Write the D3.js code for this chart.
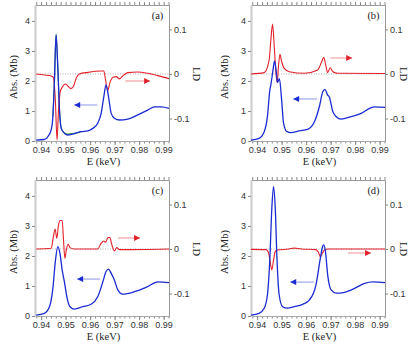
<!DOCTYPE html>
<html>
<head>
<meta charset="utf-8">
<script src="https://cdn.jsdelivr.net/npm/d3@7"></script>
<style>
  body { margin: 0; background: #fff; }
  .tick text { font-family: "Liberation Sans", Arial, sans-serif; font-size: 9px; fill: #333; }
  .lbl { font-family: "Liberation Serif", "Times New Roman", serif; font-size: 10.5px; fill: #222; }
</style>
</head>
<body>
<div class="chart"></div>
<script>
// Energy (keV) tick labels
var eTicks = [0.94, 0.95, 0.96, 0.97, 0.98, 0.99];
var absTicks = [0, 1, 2, 3, 4];
var ldTicks = [-0.1, 0, 0.1];

// panel (a)
var absE_a = [0.938, 0.9413, 0.9427, 0.9441, 0.9448, 0.9454, 0.9461, 0.9468, 0.9475, 0.9482, 0.9495, 0.9509, 0.9529, 0.9563, 0.9591, 0.9611, 0.9631, 0.9645, 0.9656, 0.9665, 0.9675, 0.9686, 0.9699, 0.972, 0.9754, 0.9795, 0.9835, 0.9863, 0.989, 0.9922];
var abs_a  = [0.03, 0.05, 0.14, 0.37, 0.81, 1.92, 3.53, 2.48, 1.03, 0.42, 0.26, 0.2, 0.23, 0.31, 0.34, 0.42, 0.59, 0.92, 1.48, 1.87, 1.48, 0.92, 0.76, 0.7, 0.73, 0.87, 1.03, 1.14, 1.14, 1.09];
var greenE_a = [0.9448, 0.9454, 0.9461, 0.9468, 0.9475, 0.9482, 0.9495, 0.9509, 0.9529, 0.9563];
var green_a  = [0.81, 1.92, 3.56, 2.48, 1.03, 0.42, 0.27, 0.23, 0.25, 0.31];
var ldE_a = [0.938, 0.9413, 0.9441, 0.945, 0.9458, 0.9465, 0.9471, 0.9478, 0.9486, 0.9498, 0.9509, 0.9522, 0.9533, 0.9543, 0.9556, 0.9591, 0.9645, 0.9656, 0.9663, 0.9672, 0.968, 0.9693, 0.9706, 0.972, 0.9733, 0.9754, 0.9795, 0.9835, 0.9876, 0.9922];
var ld_a  = [0, -0.0022, -0.0045, -0.0075, -0.058, -0.148, -0.081, -0.04, -0.03, -0.0225, -0.027, -0.033, -0.027, -0.0097, 0, 0.0037, 0.0067, 0.0067, -0.0135, -0.037, -0.021, -0.0075, -0.006, -0.011, -0.0045, 0.003, 0.0045, 0.0015, -0.0037, -0.0105];

// panel (b)
var absE_b = [0.9375, 0.9408, 0.9429, 0.9442, 0.9452, 0.9456, 0.9464, 0.9471, 0.9478, 0.9483, 0.9491, 0.95, 0.9508, 0.9522, 0.9538, 0.9572, 0.9606, 0.9634, 0.9654, 0.9668, 0.9677, 0.9688, 0.9695, 0.9709, 0.9723, 0.9743, 0.9784, 0.9825, 0.9859, 0.988, 0.9922];
var abs_b  = [0.03, 0.09, 0.31, 0.81, 1.7, 1.87, 2.31, 2.67, 2.31, 1.95, 2.08, 1.37, 0.59, 0.31, 0.28, 0.34, 0.39, 0.64, 1.14, 1.64, 1.72, 1.53, 1.46, 0.98, 0.81, 0.73, 0.81, 0.92, 1.09, 1.14, 1.12];
var ldE_b = [0.9375, 0.9429, 0.9449, 0.9456, 0.9463, 0.947, 0.9477, 0.9482, 0.9487, 0.9493, 0.95, 0.951, 0.9531, 0.9593, 0.9647, 0.9664, 0.9672, 0.968, 0.9688, 0.9698, 0.9709, 0.9729, 0.9922];
var ld_b  = [0, 0.003, 0.031, 0.076, 0.112, 0.061, 0.0015, -0.0195, 0.016, 0.044, 0.028, 0.013, 0.005, 0.0015, 0.009, 0.028, 0.0375, 0.02, 0.003, 0.014, 0.005, 0.0015, 0.001];

// panel (c)
var absE_c = [0.938, 0.9413, 0.9434, 0.9448, 0.9458, 0.9468, 0.9478, 0.9486, 0.9495, 0.9505, 0.9518, 0.9536, 0.957, 0.9604, 0.9631, 0.9652, 0.9665, 0.9675, 0.9686, 0.9699, 0.9713, 0.9733, 0.9781, 0.9835, 0.9876, 0.9922];
var abs_c  = [0.03, 0.09, 0.31, 0.92, 1.81, 2.31, 2.03, 1.53, 1.14, 0.64, 0.31, 0.23, 0.31, 0.39, 0.64, 1.14, 1.48, 1.56, 1.42, 1.2, 0.87, 0.73, 0.81, 0.98, 1.14, 1.11];
var ldE_c = [0.938, 0.9441, 0.9449, 0.9457, 0.9464, 0.9471, 0.9478, 0.9486, 0.9491, 0.9497, 0.9503, 0.951, 0.9518, 0.9536, 0.9631, 0.9645, 0.9656, 0.9663, 0.9672, 0.968, 0.9689, 0.9699, 0.9709, 0.972, 0.9922];
var ld_c  = [0, 0.0015, 0.024, 0.045, 0.024, 0.054, 0.064, 0.064, 0.024, -0.021, -0.002, 0.0105, 0.003, 0, 0, 0.013, 0.018, 0.015, 0.025, 0.026, 0.009, -0.0045, 0.003, -0.0015, 0];

// panel (d)
var absE_d = [0.9375, 0.9408, 0.9429, 0.9442, 0.9452, 0.946, 0.9467, 0.9474, 0.9481, 0.949, 0.9504, 0.9524, 0.9552, 0.9586, 0.9613, 0.964, 0.9658, 0.9668, 0.9672, 0.9679, 0.9688, 0.9702, 0.9723, 0.9757, 0.9798, 0.9839, 0.9873, 0.9922];
var abs_d  = [0.03, 0.09, 0.26, 0.7, 1.92, 3.59, 4.31, 3.59, 1.92, 0.7, 0.31, 0.26, 0.31, 0.39, 0.53, 1.03, 1.92, 2.33, 2.37, 2.14, 1.37, 0.87, 0.76, 0.79, 0.92, 1.09, 1.14, 1.11];
var ldE_d = [0.9375, 0.9436, 0.9446, 0.9453, 0.946, 0.9467, 0.9474, 0.9482, 0.953, 0.955, 0.958, 0.964, 0.965, 0.9658, 0.9666, 0.9675, 0.969, 0.9922];
var ld_d  = [-0.001, -0.0015, -0.0075, -0.028, -0.047, -0.025, -0.006, -0.0022, 0, 0.002, 0, -0.0015, -0.0075, -0.017, -0.0097, -0.0022, 0, 0];

// arrows: [E start, E end, value]
var ldArrow = { a: [0.9743, 0.9845, -0.0157], b: [0.9698, 0.9788, 0.036], c: [0.9714, 0.9804, 0.0247], d: [0.9771, 0.9865, -0.009] };
var absArrow = { a: [0.9629, 0.9535, 1.2], b: [0.9645, 0.9547, 1.4], c: [0.9641, 0.9547, 1.23], d: [0.9633, 0.9535, 1.13] };

var panels = [
  { id: "a", left: 35, top: 5, absE: absE_a, abs: abs_a, ldE: ldE_a, ld: ld_a, ylx: -21.5, ldx: 27.5 },
  { id: "b", left: 251, top: 5, absE: absE_b, abs: abs_b, ldE: ldE_b, ld: ld_b, ylx: -27, ldx: 19 },
  { id: "c", left: 35, top: 180, absE: absE_c, abs: abs_c, ldE: ldE_c, ld: ld_c, ylx: -21.5, ldx: 27.5 },
  { id: "d", left: 251, top: 180, absE: absE_d, abs: abs_d, ldE: ldE_d, ld: ld_d, ylx: -27, ldx: 19 }
];

var svgWidth = 415, svgHeight = 350;
var width = 134, height = 136;
var blue = "#1a2bd2", red = "#e3202a";

var svg = d3.select(".chart").append("svg")
  .attr("width", svgWidth)
  .attr("height", svgHeight);

var defs = svg.append("defs");
[["headRed", red], ["headBlue", blue]].forEach(function(m) {
  defs.append("marker")
    .attr("id", m[0])
    .attr("viewBox", "0 0 10 10")
    .attr("refX", 10).attr("refY", 5)
    .attr("markerWidth", 7).attr("markerHeight", 6)
    .attr("markerUnits", "userSpaceOnUse")
    .attr("orient", "auto")
    .append("path").attr("d", "M0,0L10,5L0,10Z").attr("fill", m[1]);
});

var xScale = d3.scaleLinear().domain([0.9375, 0.9922]).range([0, width]);
var yAbs = d3.scaleLinear().domain([0, 4.53]).range([height, 0]);
var yLd = d3.scaleLinear().domain([-0.1506, 0.155]).range([height, 0]);

var minorE = d3.range(0, 28).map(function(i) { return +(0.938 + i * 0.002).toFixed(3); });

function styleAxis(g, col) {
  g.selectAll(".domain").attr("stroke", col);
  g.selectAll(".tick line").attr("stroke", "#888");
}

panels.forEach(function(p) {
  var g = svg.append("g").attr("transform", "translate(" + p.left + "," + p.top + ")");

  // zero line of LD
  g.append("line")
    .attr("x1", 0).attr("x2", width)
    .attr("y1", yLd(0)).attr("y2", yLd(0))
    .attr("stroke", "#999").attr("stroke-width", 0.8)
    .attr("stroke-dasharray", "1,1.5");

  // top axis
  var top = g.append("g").call(d3.axisTop(xScale).tickValues(minorE).tickSize(3).tickSizeOuter(0).tickFormat(""));
  styleAxis(top, "#999");

  // bottom axis: minor + major
  var bMinor = g.append("g").attr("transform", "translate(0," + height + ")")
    .call(d3.axisBottom(xScale).tickValues(minorE).tickSize(2.5).tickSizeOuter(0).tickFormat(""));
  styleAxis(bMinor, "#aaa");
  var bMajor = g.append("g").attr("transform", "translate(0," + height + ")")
    .call(d3.axisBottom(xScale).tickValues(eTicks).tickSize(4).tickSizeOuter(0).tickPadding(2).tickFormat(d3.format(".2f")));
  styleAxis(bMajor, "#aaa");

  // left axis
  var left = g.append("g")
    .call(d3.axisLeft(yAbs).tickValues(absTicks).tickSize(3).tickSizeOuter(0).tickPadding(2).tickFormat(d3.format("d")));
  styleAxis(left, "#cfcfcf");
  left.select(".domain").attr("stroke-width", 2.2);

  // right axis
  var right = g.append("g").attr("transform", "translate(" + width + ",0)")
    .call(d3.axisRight(yLd).tickValues(ldTicks).tickSize(3).tickSizeOuter(0).tickPadding(2)
      .tickFormat(function(d) { return d === 0 ? "0" : (d < 0 ? "-" : "") + Math.abs(d).toFixed(1); }));
  styleAxis(right, "#999");

  // curves
  var absLine = d3.line()
    .x(function(d) { return xScale(d[0]); })
    .y(function(d) { return yAbs(d[1]); })
    .curve(d3.curveMonotoneX);
  var ldLine = d3.line()
    .x(function(d) { return xScale(d[0]); })
    .y(function(d) { return yLd(d[1]); })
    .curve(d3.curveMonotoneX);

  if (p.id === "a") {
    g.append("path")
      .datum(d3.zip(greenE_a, green_a))
      .attr("d", absLine)
      .attr("fill", "none").attr("stroke", "#3a9a3a").attr("stroke-width", 1.1);
  }

  g.append("path")
    .datum(d3.zip(p.ldE, p.ld))
    .attr("d", ldLine)
    .attr("fill", "none").attr("stroke", red).attr("stroke-width", 1.1);

  g.append("path")
    .datum(d3.zip(p.absE, p.abs))
    .attr("d", absLine)
    .attr("fill", "none").attr("stroke", blue).attr("stroke-width", 1.3);

  // arrows
  var ra = ldArrow[p.id];
  g.append("line")
    .attr("x1", xScale(ra[0])).attr("x2", xScale(ra[1]))
    .attr("y1", yLd(ra[2])).attr("y2", yLd(ra[2]))
    .attr("stroke", "#f3a3a3").attr("stroke-width", 1.2)
    .attr("marker-end", "url(#headRed)");
  var ba = absArrow[p.id];
  g.append("line")
    .attr("x1", xScale(ba[0])).attr("x2", xScale(ba[1]))
    .attr("y1", yAbs(ba[2])).attr("y2", yAbs(ba[2]))
    .attr("stroke", "#9fa8ea").attr("stroke-width", 1.2)
    .attr("marker-end", "url(#headBlue)");

  // labels
  g.append("text").attr("class", "lbl")
    .attr("x", width - 11.5).attr("y", 14)
    .attr("text-anchor", "middle")
    .text("(" + p.id + ")");

  g.append("text").attr("class", "lbl")
    .attr("transform", "translate(" + p.ylx + "," + 72 + ") rotate(-90)")
    .attr("text-anchor", "middle").attr("dy", "0.35em")
    .text("Abs. (Mb)");

  g.append("text").attr("class", "lbl")
    .attr("transform", "translate(" + (width + p.ldx) + "," + 69 + ") rotate(90)")
    .attr("text-anchor", "middle").attr("dy", "0.35em")
    .text("LD");

  g.append("text").attr("class", "lbl")
    .attr("x", width / 2 + 1.5).attr("y", height + 24)
    .attr("text-anchor", "middle")
    .text("E (keV)");
});
</script>
</body>
</html>
